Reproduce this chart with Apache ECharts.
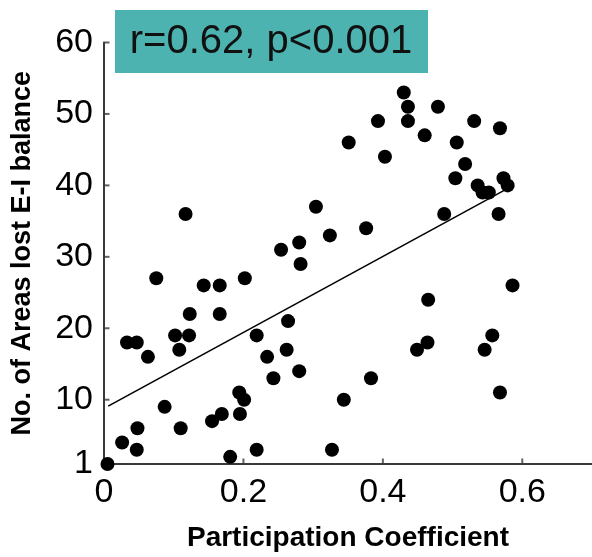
<!DOCTYPE html>
<html>
<head>
<meta charset="utf-8">
<script src="https://cdn.jsdelivr.net/npm/echarts@6/dist/echarts.min.js"></script>
<style>html,body{margin:0;padding:0;background:#fff;}#c{width:592px;height:557px;}</style>
</head>
<body>
<div id="c"></div>
<script>
// Participation coefficient (x) and number of areas that lost E-I balance (y)
var pcValues = [0.005,0.026,0.047,0.048,0.033,0.047,0.063,0.075,0.087,0.102,0.108,0.110,0.117,0.122,0.123,0.143,0.155,0.166,0.166,0.169,0.181,0.194,0.195,0.201,0.202,0.219,0.219,0.234,0.243,0.254,0.262,0.264,0.280,0.280,0.282,0.304,0.324,0.327,0.344,0.351,0.376,0.383,0.393,0.403,0.430,0.436,0.436,0.449,0.460,0.464,0.465,0.479,0.488,0.504,0.506,0.518,0.531,0.536,0.543,0.546,0.552,0.557,0.566,0.568,0.568,0.573,0.579,0.586];
var areasLost = [1,4,3,6,18,18,16,27,9,19,17,6,36,19,22,26,7,26,22,8,2,11,8,10,27,19,3,16,13,31,17,21,14,32,29,37,33,3,10,46,34,13,49,44,53,51,49,17,47,18,24,51,36,41,46,43,49,40,39,17,39,19,36,48,11,41,40,26];
// Regression line end points
var fitX = [0.006, 0.574];
var fitY = [9.1, 39.3];
var xTicks = [0, 0.2, 0.4, 0.6];
var yTicks = [1, 10, 20, 30, 40, 50, 60];
var statText = 'r=0.62, p<0.001';

var pts = pcValues.map(function (v, i) { return [v, areasLost[i]]; });
var fitPts = fitX.map(function (v, i) { return [v, fitY[i]]; });
var xTickPts = xTicks.slice(1).map(function (v) { return [v, 1]; });
var yTickPts = yTicks.slice(1).map(function (v) { return [0, v]; });

var chart = echarts.init(document.getElementById('c'));
var axisCol = '#3a3a3a';
var font = 'Liberation Sans, Arial, Helvetica, sans-serif';
chart.setOption({
  animation: false,
  grid: { left: 104, right: -5.5, top: 42.5, bottom: 89.5, containLabel: false },
  xAxis: {
    type: 'value', min: 0, max: 0.7,
    axisLine: { show: true, lineStyle: { color: axisCol, width: 2 } },
    axisTick: { show: false },
    axisLabel: { customValues: xTicks, color: '#000', fontSize: 34, fontFamily: font, margin: 12,
      formatter: function (v) { return v === 0 ? '0' : String(v); } },
    splitLine: { show: false },
    name: 'Participation Coefficient', nameLocation: 'middle', nameGap: 60,
    nameTextStyle: { color: '#000', fontSize: 28, fontWeight: 'bold', fontFamily: font }
  },
  yAxis: {
    type: 'value', min: 1, max: 60,
    axisLine: { show: true, lineStyle: { color: axisCol, width: 2 } },
    axisTick: { show: false },
    axisLabel: { customValues: yTicks, color: '#000', fontSize: 34, fontFamily: font, margin: 11 },
    splitLine: { show: false },
    name: 'No. of Areas lost E-I balance', nameLocation: 'middle', nameGap: 68, nameRotate: 90,
    nameTextStyle: { color: '#000', fontSize: 27, fontWeight: 'bold', fontFamily: font }
  },
  series: [
    { type: 'scatter', data: xTickPts, symbol: 'rect', symbolSize: [2, 5], symbolOffset: [0, -3],
      itemStyle: { color: axisCol }, clip: false, silent: true, z: 1 },
    { type: 'scatter', data: yTickPts, symbol: 'rect', symbolSize: [5, 2], symbolOffset: [3, 0],
      itemStyle: { color: axisCol }, clip: false, silent: true, z: 1 },
    { type: 'line', data: fitPts, symbol: 'none', lineStyle: { color: '#000', width: 1.6 }, z: 2 },
    { type: 'scatter', data: pts, symbol: 'circle', symbolSize: 14, itemStyle: { color: '#000', opacity: 1 }, clip: false, z: 3 }
  ],
  graphic: [
    { type: 'rect', left: 115, top: 10, shape: { width: 313, height: 63 }, style: { fill: '#4db3b0' }, z: 10 },
    { type: 'text', x: 271, y: 42, z: 11, style: { text: statText, fill: '#111', font: '40px ' + font, align: 'center', verticalAlign: 'middle' } }
  ]
});
</script>
</body>
</html>
